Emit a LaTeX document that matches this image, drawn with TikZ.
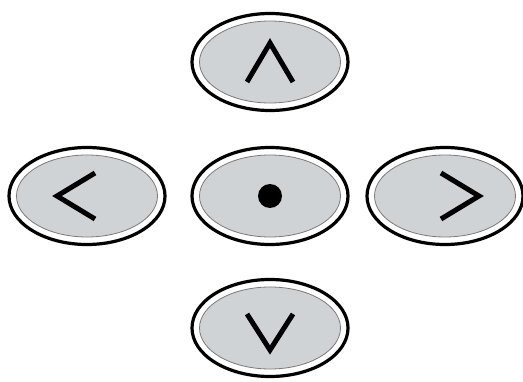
\documentclass[tikz,border=0pt]{standalone}
\usetikzlibrary{shapes.geometric}
\definecolor{keyfill}{HTML}{D0D3D6}
\definecolor{keyring}{HTML}{7A7A7A}
\begin{document}
\begin{tikzpicture}[x=1pt,y=-1pt,
  key/.style={ellipse,draw=black,line width=3.2pt,fill=white,minimum width=156pt,minimum height=97pt,inner sep=0pt},
  keyin/.style={ellipse,draw=keyring,line width=0.8pt,fill=keyfill,minimum width=141pt,minimum height=82pt,inner sep=0pt},
  chev/.style={line width=5pt,line join=miter}]
\useasboundingbox (0,0) rectangle (523,382);

\foreach \n/\x/\y in {up/270/62, left/87/196, ok/270/196, right/445/196, down/270/328}{
  \node[key] (\n) at (\x,\y) {};
  \node[keyin] (\n-in) at (\n.center) {};
}

\draw[chev] ([shift={(-23,20)}]up.center) -- ([shift={(0,-19)}]up.center) -- ([shift={(23,20)}]up.center);
\draw[chev] ([shift={(-23,-14)}]down.center) -- ([shift={(0,22)}]down.center) -- ([shift={(23,-14)}]down.center);
\draw[chev] ([shift={(8,-23)}]left.center) -- ([shift={(-30,0)}]left.center) -- ([shift={(8,23)}]left.center);
\draw[chev] ([shift={(-4,-23)}]right.center) -- ([shift={(34,0)}]right.center) -- ([shift={(-4,23)}]right.center);
\fill (ok.center) circle[radius=12pt];
\end{tikzpicture}
\end{document}
